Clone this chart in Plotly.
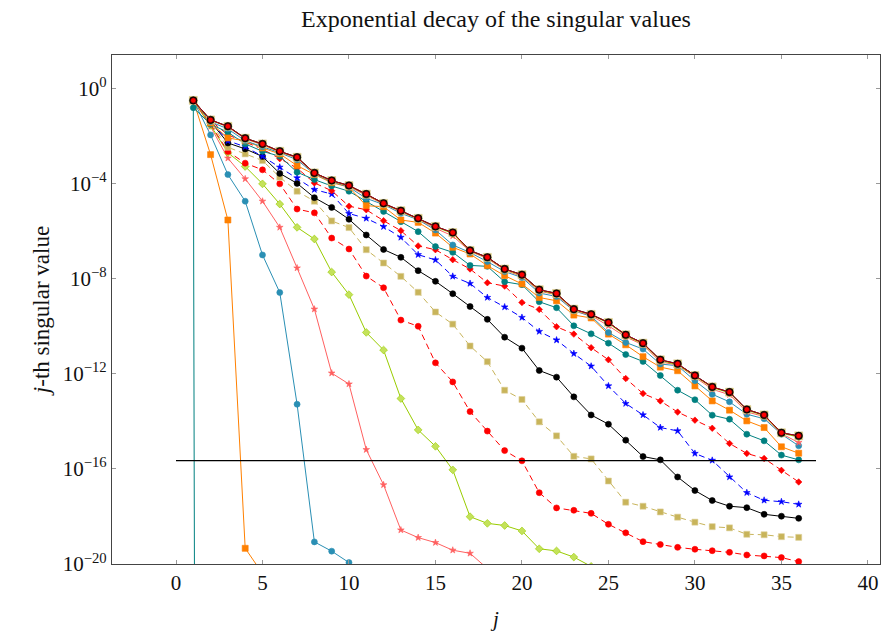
import numpy as np
import plotly.graph_objects as go

# log10 of the j-th singular value, j = 1, 2, ...
teal_a = [-0.55, -300.0]
orange_b = [-0.5, -2.78, -5.53, -19.34, -20.4]
blue_c = [-0.5, -1.95, -3.62, -4.74, -7.0, -8.58, -13.28, -19.07, -19.46, -19.94]
salmon_d = [-0.5, -1.6, -2.93, -3.8, -4.74, -5.84, -7.55, -9.28, -11.97, -12.43,
            -15.19, -16.67, -18.57, -18.89, -19.1, -19.42, -19.55, -20.19]
green_e = [-0.5, -1.55, -2.7, -3.28, -4.01, -4.86, -5.84, -6.33, -7.72, -8.67,
           -10.26, -11.0, -13.04, -14.36, -15.05, -16.04, -18.01, -18.29, -18.38, -18.61,
           -19.36, -19.45, -19.71, -20.1]
red_f = [-0.5, -1.5, -2.65, -3.14, -3.42, -4.01, -5.07, -5.23, -6.29, -6.75,
         -7.89, -8.38, -9.74, -10.0, -11.54, -12.34, -13.59, -14.41, -15.23, -15.66,
         -17.0, -17.64, -17.74, -17.87, -18.33, -18.69, -19.06, -19.18, -19.3, -19.38,
         -19.44, -19.51, -19.62, -19.66, -19.73, -19.9]
khaki_g = [-0.5, -1.45, -2.47, -2.75, -3.03, -3.73, -4.32, -4.74, -5.57, -5.85,
           -6.78, -7.34, -7.9, -8.57, -9.4, -9.91, -10.83, -11.49, -12.69, -13.08,
           -14.02, -14.61, -15.47, -15.58, -16.51, -17.4, -17.57, -17.81, -18.03, -18.24,
           -18.43, -18.48, -18.75, -18.77, -18.85, -18.88]
black_h = [-0.5, -1.4, -2.29, -2.54, -2.86, -3.57, -3.99, -4.59, -5.0, -5.5,
           -6.16, -6.77, -7.1, -7.66, -8.11, -8.63, -9.17, -9.71, -10.46, -10.92,
           -11.86, -12.14, -12.97, -13.73, -14.12, -14.79, -15.48, -15.62, -16.34, -16.91,
           -17.33, -17.57, -17.63, -17.91, -17.99, -18.08]
blue_i = [-0.5, -1.4, -2.2, -2.45, -2.85, -3.31, -3.76, -4.25, -4.44, -5.26,
          -5.46, -5.81, -6.26, -6.99, -7.21, -7.9, -8.2, -8.79, -9.19, -9.63,
          -10.22, -10.58, -11.15, -11.68, -12.51, -13.25, -13.73, -14.26, -14.4, -15.35,
          -15.64, -16.34, -17.0, -17.32, -17.38, -17.49]
red_j = [-0.5, -1.35, -1.95, -2.25, -2.55, -2.95, -3.35, -3.97, -4.3, -4.95,
         -5.1, -5.56, -5.98, -6.62, -6.78, -7.2, -7.59, -8.17, -8.31, -9.0,
         -9.29, -10.02, -10.33, -10.9, -11.41, -12.2, -12.83, -13.14, -13.61, -13.95,
         -14.29, -14.93, -15.35, -15.56, -16.06, -16.55]
teal_k = [-0.81, -1.5, -1.84, -2.33, -2.64, -2.85, -3.52, -3.83, -4.1, -4.32,
          -4.75, -5.17, -5.6, -6.02, -6.65, -6.89, -7.44, -7.48, -8.13, -8.25,
          -8.97, -9.22, -9.98, -10.32, -10.71, -11.19, -11.48, -12.07, -12.69, -13.09,
          -13.74, -13.91, -14.54, -14.82, -15.42, -15.62]
orange_l = [-0.5, -1.45, -2.08, -2.2, -2.5, -2.75, -3.24, -3.62, -3.96, -4.15,
            -4.93, -4.97, -5.53, -5.63, -6.08, -6.68, -6.96, -7.45, -7.87, -8.22,
            -8.79, -8.93, -9.53, -9.65, -10.33, -10.78, -11.28, -11.72, -11.87, -12.51,
            -13.14, -13.53, -13.98, -14.26, -15.07, -15.34]
blue_m = [-0.5, -1.4, -1.7, -2.2, -2.45, -2.7, -3.0, -3.6, -3.92, -4.15,
          -4.62, -4.88, -5.25, -5.52, -5.95, -6.58, -6.9, -7.28, -7.7, -7.95,
          -8.6, -8.75, -9.35, -9.58, -10.26, -10.68, -10.96, -11.59, -11.66, -12.29,
          -12.86, -13.18, -13.7, -13.89, -14.54, -15.03]
salmon_n = [-0.5, -1.33, -1.62, -2.12, -2.37, -2.67, -2.93, -3.58, -3.9, -4.12,
            -4.5, -4.86, -5.18, -5.5, -5.88, -6.2, -6.85, -7.15, -7.64, -7.9,
            -8.52, -8.68, -9.33, -9.55, -9.98, -10.45, -10.78, -11.5, -11.63, -12.15,
            -12.65, -12.88, -13.6, -13.8, -14.52, -14.89]
green_p = [-0.5, -1.33, -1.6, -2.1, -2.35, -2.66, -2.9, -3.56, -3.89, -4.1,
           -4.46, -4.85, -5.16, -5.48, -5.82, -6.1, -6.83, -7.12, -7.61, -7.86,
           -8.49, -8.65, -9.3, -9.52, -9.87, -10.4, -10.74, -11.44, -11.62, -12.1,
           -12.58, -12.8, -13.53, -13.76, -14.5, -14.66]
top_o = [-0.5, -1.32, -1.59, -2.09, -2.33, -2.64, -2.89, -3.55, -3.87, -4.08,
         -4.44, -4.83, -5.14, -5.46, -5.8, -6.06, -6.81, -7.1, -7.59, -7.83,
         -8.46, -8.62, -9.28, -9.5, -9.84, -10.36, -10.71, -11.41, -11.58, -12.07,
         -12.55, -12.77, -13.5, -13.73, -14.48, -14.61]

eps_line_x = [0, 37]
eps_value = 2.22e-16

ytick_exps = [0, -4, -8, -12, -16, -20]
xtick_vals = [0, 5, 10, 15, 20, 25, 30, 35, 40]

TEAL = "#008080"
ORANGE = "#ff8000"
SBLUE = "#2a8fb4"
SALMON = "#ff6060"
LIME = "#99cc00"
RED = "#ff0000"
KHAKI = "#c8b45a"
BLACK = "#000000"
BLUE = "#0000ff"

fig = go.Figure()

def add(exps, color, symbol, size, dash="solid", fill=None, edge=None, lw=1.0):
    y = np.power(10.0, np.array(exps, dtype=float))
    x = np.arange(1, len(exps) + 1)
    fig.add_trace(go.Scatter(
        x=x, y=y, mode="lines+markers",
        line=dict(color=color, width=lw, dash=dash),
        marker=dict(symbol=symbol, size=size, color=fill or color,
                    line=dict(color=edge or color, width=0.6)),
        showlegend=False, cliponaxis=True))

DASH = "6px,4px"
add(teal_a, TEAL, "circle", 6)
add(orange_b, ORANGE, "square", 6)
add(blue_c, SBLUE, "circle", 6)
add(salmon_d, SALMON, "star", 5)
add(green_e, LIME, "diamond", 6, fill="#c4e25a")
add(red_f, RED, "circle", 6, dash=DASH)
add(khaki_g, KHAKI, "square", 6, dash=DASH, edge="#ddd09a")
add(black_h, BLACK, "circle", 6)
add(blue_i, BLUE, "star", 5, dash=DASH)
add(red_j, RED, "diamond", 5, dash=DASH)
add(teal_k, TEAL, "circle", 6)
add(orange_l, ORANGE, "square", 6)
add(blue_m, SBLUE, "circle", 6)
add(salmon_n, SALMON, "star", 5)
add(green_p, LIME, "diamond", 6, fill="#c4e25a")
add(top_o, KHAKI, "square", 8, dash=DASH, edge="#ddd09a")
add(top_o, BLACK, "circle", 7.5)
add(top_o, "#b00018", "circle", 5.5, fill=RED, edge="#300000", lw=1.0)

# machine epsilon reference line
fig.add_trace(go.Scatter(x=eps_line_x, y=[eps_value, eps_value], mode="lines",
                         line=dict(color="black", width=1.2), showlegend=False))

SERIF = "Liberation Serif, DejaVu Serif, serif"
fig.update_layout(
    width=881, height=631,
    margin=dict(l=112, r=1, t=55, b=67),
    paper_bgcolor="white", plot_bgcolor="white",
    font=dict(family=SERIF, size=21, color="#111"),
    title=dict(text="Exponential decay of the singular values", x=0.5, xanchor="center",
               xref="paper", yref="container", y=0.97, yanchor="middle",
               font=dict(size=24)),
)
fig.update_xaxes(
    range=[-3.7, 40.7], tickvals=xtick_vals, ticks="inside", ticklen=4,
    tickcolor="#999", tickwidth=1.2, showgrid=False, zeroline=False,
    showline=True, linecolor="#444", linewidth=1.2, mirror="ticks",
    title=dict(text="<i>j</i>", standoff=18, font=dict(size=21)),
)
fig.update_yaxes(
    type="log", range=[-20, 1.41],
    tickvals=[10.0 ** e for e in ytick_exps],
    ticktext=["10<sup>%s</sup>" % (str(e).replace("-", "−")) for e in ytick_exps],
    ticks="inside", ticklen=4, tickcolor="#999", tickwidth=1.2,
    showgrid=False, zeroline=False,
    showline=True, linecolor="#444", linewidth=1.2, mirror="ticks",
    title=dict(text="<i>j</i>-th singular value", standoff=6, font=dict(size=23)),
)

fig.write_html(
    "out.html",
    config={"displayModeBar": False},
    post_script="document.body.style.margin='0';document.body.style.overflow='hidden';",
)
